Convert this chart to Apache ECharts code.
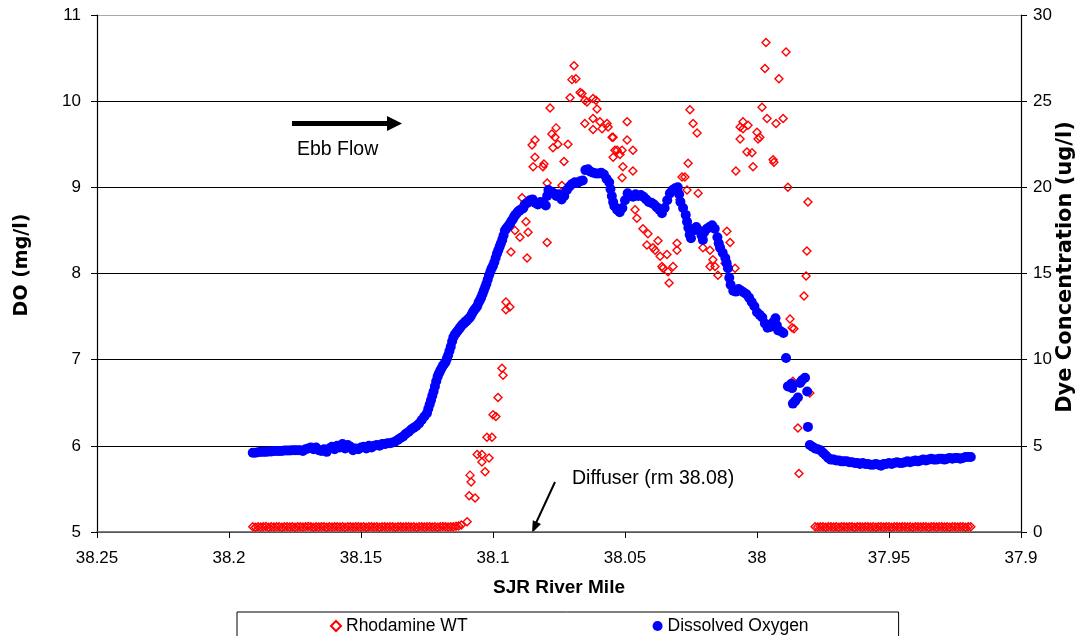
<!DOCTYPE html>
<html>
<head>
<meta charset="utf-8">
<script src="https://cdn.jsdelivr.net/npm/echarts@6/dist/echarts.min.js"></script>
<style>
html,body{margin:0;padding:0;background:#fff;}
#chart{width:1086px;height:636px;}
</style>
</head>
<body>
<div id="chart"></div>
<script>
// X axis tick range (SJR River Mile, drawn reversed)
const xTicks = [38.25, 38.2, 38.15, 38.1, 38.05, 38, 37.95, 37.9];
const doTicks = [5, 6, 7, 8, 9, 10, 11];
const dyeTicks = [0, 5, 10, 15, 20, 25, 30];
const seriesNames = ['Rhodamine WT', 'Dissolved Oxygen'];

// Dissolved Oxygen (mg/l): [river mile, DO]
const doData = [
[38.191,5.92],[38.190,5.92],[38.189,5.925],[38.188,5.93],[38.187,5.93],[38.186,5.93],[38.185,5.935],[38.184,5.935],
[38.183,5.94],[38.182,5.94],[38.181,5.94],[38.180,5.94],[38.179,5.945],[38.178,5.945],[38.177,5.945],[38.176,5.95],
[38.175,5.95],[38.174,5.95],[38.173,5.95],[38.172,5.94],[38.171,5.96],[38.170,5.97],[38.169,5.98],[38.168,5.96],
[38.167,5.98],[38.166,5.95],[38.165,5.94],[38.164,5.96],[38.163,5.93],[38.162,5.97],[38.161,5.99],[38.160,5.96],
[38.159,6.0],[38.158,5.98],[38.157,6.02],[38.156,5.97],[38.155,6.01],[38.154,5.99],[38.153,5.95],[38.152,5.97],
[38.151,5.96],[38.150,5.98],[38.149,5.99],[38.148,5.97],[38.147,6.0],[38.146,5.98],[38.145,6.0],[38.144,6.01],
[38.143,6.0],[38.142,6.02],[38.141,6.02],[38.140,6.03],[38.139,6.03],[38.138,6.04],[38.137,6.05],[38.136,6.07],
[38.135,6.09],[38.134,6.11],[38.133,6.14],[38.132,6.16],[38.131,6.19],[38.130,6.21],[38.129,6.23],[38.128,6.26],
[38.127,6.30],[38.126,6.34],[38.125,6.38],[38.1245,6.43],[38.124,6.48],[38.1235,6.53],[38.123,6.58],[38.1225,6.63],
[38.122,6.69],[38.1215,6.75],[38.121,6.80],[38.1205,6.84],[38.120,6.87],[38.1195,6.90],[38.119,6.93],[38.1185,6.95],
[38.118,6.97],[38.1175,7.01],[38.117,7.05],[38.1165,7.10],[38.116,7.15],[38.1155,7.21],[38.115,7.26],[38.1145,7.29],
[38.114,7.31],[38.1135,7.33],[38.113,7.35],[38.1125,7.37],[38.112,7.39],[38.1115,7.41],[38.111,7.42],[38.1105,7.44],
[38.110,7.45],[38.1095,7.47],[38.109,7.48],[38.1085,7.50],[38.108,7.53],[38.1075,7.56],[38.107,7.58],[38.1065,7.60],
[38.106,7.62],[38.1055,7.66],[38.105,7.69],[38.1045,7.72],[38.104,7.76],[38.1035,7.80],[38.103,7.84],[38.1025,7.88],
[38.102,7.93],[38.1015,7.98],[38.101,8.02],[38.1005,8.06],[38.100,8.09],[38.0995,8.13],[38.099,8.18],[38.0985,8.23],
[38.098,8.27],[38.0975,8.31],[38.097,8.35],[38.0965,8.39],[38.096,8.44],[38.0955,8.50],[38.095,8.52],[38.0945,8.54],
[38.094,8.56],[38.0935,8.58],[38.093,8.61],[38.0925,8.63],[38.092,8.66],[38.0915,8.68],[38.091,8.70],[38.0905,8.72],
[38.090,8.73],[38.089,8.75],[38.0885,8.76],[38.088,8.80],[38.087,8.82],[38.086,8.85],[38.085,8.86],[38.084,8.82],
[38.083,8.80],[38.082,8.83],[38.081,8.82],[38.080,8.79],[38.0795,8.90],[38.079,8.97],[38.078,8.95],[38.077,8.93],
[38.076,8.90],[38.075,8.92],[38.074,8.86],[38.073,8.90],[38.072,8.97],[38.071,9.01],[38.070,9.04],[38.069,9.06],
[38.068,9.05],[38.067,9.07],[38.066,9.08],[38.065,9.20],[38.064,9.21],[38.063,9.18],[38.062,9.17],[38.061,9.16],
[38.060,9.16],[38.059,9.17],[38.058,9.15],[38.057,9.10],[38.056,9.06],[38.0555,8.98],[38.055,8.90],[38.0545,8.83],
[38.054,8.78],[38.053,8.74],[38.052,8.71],[38.051,8.76],[38.050,8.85],[38.049,8.93],[38.048,8.90],[38.047,8.89],
[38.046,8.92],[38.045,8.90],[38.044,8.91],[38.043,8.89],[38.042,8.86],[38.041,8.83],[38.040,8.82],[38.039,8.80],
[38.038,8.77],[38.037,8.74],[38.036,8.70],[38.035,8.76],[38.034,8.85],[38.033,8.93],[38.032,8.97],[38.031,8.99],
[38.030,9.00],[38.0295,8.92],[38.029,8.83],[38.028,8.76],[38.027,8.68],[38.0265,8.60],[38.026,8.53],[38.0255,8.45],
[38.025,8.41],[38.024,8.50],[38.023,8.54],[38.022,8.50],[38.021,8.44],[38.0205,8.39],[38.020,8.48],[38.019,8.52],
[38.018,8.54],[38.017,8.56],[38.016,8.52],[38.015,8.42],[38.0145,8.35],[38.014,8.30],[38.013,8.24],[38.012,8.18],
[38.0115,8.12],[38.011,8.06],[38.0105,7.95],[38.010,7.87],[38.009,7.80],[38.008,7.79],[38.007,7.82],[38.006,7.80],
[38.005,7.78],[38.004,7.76],[38.003,7.72],[38.002,7.67],[38.001,7.62],[38.000,7.55],[37.999,7.52],[37.998,7.49],
[37.997,7.42],[37.996,7.37],[37.995,7.38],[37.994,7.43],[37.993,7.48],[37.9925,7.40],[37.992,7.34],[37.991,7.33],
[37.990,7.31],[37.989,7.02],[37.9883,6.69],[37.987,6.72],[37.9867,6.67],[37.9864,6.49],[37.9855,6.52],[37.9845,6.56],
[37.9837,6.73],[37.983,6.76],[37.9818,6.79],[37.981,6.63],[37.9807,6.22],[37.980,6.01],[37.979,5.99],[37.978,5.97],
[37.977,5.96],[37.976,5.95],[37.975,5.92],[37.974,5.89],[37.973,5.86],[37.972,5.84],[37.971,5.84],[37.970,5.83],
[37.969,5.83],[37.968,5.82],[37.967,5.82],[37.966,5.82],[37.965,5.81],[37.964,5.81],[37.963,5.80],[37.962,5.80],
[37.961,5.79],[37.960,5.80],[37.959,5.79],[37.958,5.79],[37.957,5.78],[37.956,5.78],[37.955,5.79],[37.954,5.78],
[37.953,5.77],[37.952,5.79],[37.951,5.79],[37.950,5.80],[37.949,5.79],[37.948,5.80],[37.947,5.81],[37.946,5.80],
[37.945,5.80],[37.944,5.81],[37.943,5.82],[37.942,5.81],[37.941,5.82],[37.940,5.83],[37.939,5.82],[37.938,5.83],
[37.937,5.84],[37.936,5.83],[37.935,5.84],[37.934,5.85],[37.933,5.84],[37.932,5.84],[37.931,5.85],[37.930,5.85],
[37.929,5.84],[37.928,5.85],[37.927,5.86],[37.926,5.85],[37.925,5.86],[37.924,5.86],[37.923,5.85],[37.922,5.86],
[37.921,5.87],[37.920,5.87],[37.919,5.87]
];

// Rhodamine WT dye (ug/l): [river mile, concentration]
const dyeData = [
[38.191,0.30],[38.190,0.28],[38.189,0.31],[38.188,0.29],[38.187,0.30],[38.186,0.32],[38.185,0.28],[38.184,0.30],
[38.183,0.29],[38.182,0.31],[38.181,0.30],[38.180,0.28],[38.179,0.30],[38.178,0.31],[38.177,0.29],[38.176,0.30],
[38.175,0.28],[38.174,0.31],[38.173,0.30],[38.172,0.29],[38.171,0.30],[38.170,0.32],[38.169,0.30],[38.168,0.28],
[38.167,0.30],[38.166,0.29],[38.165,0.31],[38.164,0.30],[38.163,0.28],[38.162,0.30],[38.161,0.29],[38.160,0.31],
[38.159,0.30],[38.158,0.29],[38.157,0.30],[38.156,0.28],[38.155,0.31],[38.154,0.30],[38.153,0.29],[38.152,0.30],
[38.151,0.31],[38.150,0.29],[38.149,0.30],[38.148,0.28],[38.147,0.30],[38.146,0.31],[38.145,0.29],[38.144,0.30],
[38.143,0.28],[38.142,0.30],[38.141,0.31],[38.140,0.29],[38.139,0.30],[38.138,0.30],[38.137,0.28],[38.136,0.31],
[38.135,0.30],[38.134,0.29],[38.133,0.30],[38.132,0.31],[38.131,0.29],[38.130,0.30],[38.129,0.28],[38.128,0.30],
[38.127,0.31],[38.126,0.29],[38.125,0.30],[38.124,0.31],[38.123,0.29],[38.122,0.30],[38.121,0.28],[38.120,0.30],
[38.119,0.32],[38.118,0.30],[38.117,0.29],[38.116,0.31],[38.115,0.30],[38.114,0.33],[38.113,0.35],[38.112,0.40],
[38.1098,0.60],[38.109,2.1],[38.1068,1.97],[38.1087,3.3],[38.1083,2.9],[38.106,4.5],[38.1042,4.5],[38.1042,4.06],
[38.103,3.5],[38.1015,4.3],[38.1023,5.5],[38.1004,5.5],[38.100,6.8],[38.0989,6.7],[38.0981,7.8],[38.0966,9.5],
[38.0962,9.1],[38.0951,13.35],[38.0936,13.05],[38.0951,12.9],[38.0932,16.25],[38.0917,17.5],[38.0898,17.1],[38.0867,17.4],
[38.0875,18.0],[38.0871,15.9],[38.089,19.4],[38.0795,16.8],[38.0795,20.25],[38.0848,21.2],[38.0841,21.75],[38.0852,22.45],
[38.0841,22.75],[38.0811,21.2],[38.0807,21.35],[38.0784,24.6],[38.0773,22.3],[38.0761,23.45],[38.0777,23.1],[38.0754,22.5],
[38.0765,22.9],[38.0731,21.5],[38.0716,22.5],[38.0708,25.2],[38.0701,26.25],[38.0686,26.3],[38.0693,27.05],[38.067,25.5],
[38.0663,25.45],[38.0644,24.95],[38.0652,25.05],[38.0621,25.15],[38.061,25.05],[38.0606,24.55],[38.0652,23.7],[38.0621,24.0],
[38.0621,23.35],[38.0595,23.8],[38.0568,23.7],[38.0564,23.5],[38.0549,22.9],[38.0545,22.9],[38.0538,22.15],[38.0545,21.75],
[38.0519,21.9],[38.0508,21.2],[38.0511,20.55],[38.0492,22.75],[38.0492,23.8],[38.0739,20.1],[38.0587,23.4],[38.053,22.15],
[38.0511,22.15],[38.047,22.15],[38.047,20.95],[38.0462,18.7],[38.0455,18.2],[38.0432,17.6],[38.0413,17.3],[38.0417,16.65],
[38.0394,16.5],[38.0375,16.9],[38.0386,16.35],[38.0367,16.0],[38.0341,16.1],[38.036,15.4],[38.0356,15.3],[38.0337,15.1],
[38.0318,15.4],[38.0333,14.45],[38.0303,16.75],[38.0303,16.35],[38.0254,24.5],[38.0242,23.7],[38.0227,23.15],[38.0261,21.4],
[38.0284,20.6],[38.0273,20.6],[38.0265,19.85],[38.0223,19.65],[38.0292,19.3],[38.0205,16.5],[38.0178,16.35],[38.0167,15.8],
[38.0178,15.4],[38.0159,15.4],[38.0148,14.9],[38.0121,15.6],[38.0114,17.45],[38.0102,16.8],[38.0083,15.3],[38.008,20.95],
[38.0064,22.8],[38.0064,23.5],[38.0053,23.8],[38.0053,23.4],[38.0034,23.6],[38.0038,22.05],[38.0019,22.0],[38.0015,21.2],
[38.000,23.2],[37.9996,22.8],[37.9989,22.9],[37.9981,24.65],[37.9962,24.0],[37.997,26.9],[37.9966,28.4],[37.9939,21.6],
[37.9936,21.45],[37.9928,23.7],[37.9917,26.3],[37.9901,24.0],[37.989,27.85],[37.9883,20.0],[37.9807,19.15],[37.9811,16.3],
[37.9814,14.85],[37.9822,13.7],[37.9875,12.36],[37.9867,11.85],[37.986,11.8],[37.9864,8.75],[37.980,8.06],[37.9845,6.03],
[37.9841,3.4],
[37.978,0.30],[37.977,0.29],[37.976,0.31],[37.975,0.30],[37.974,0.28],[37.973,0.30],[37.972,0.31],[37.971,0.29],
[37.970,0.30],[37.969,0.28],[37.968,0.30],[37.967,0.31],[37.966,0.29],[37.965,0.30],[37.964,0.30],[37.963,0.28],
[37.962,0.31],[37.961,0.30],[37.960,0.29],[37.959,0.30],[37.958,0.31],[37.957,0.29],[37.956,0.30],[37.955,0.28],
[37.954,0.30],[37.953,0.31],[37.952,0.29],[37.951,0.30],[37.950,0.30],[37.949,0.28],[37.948,0.31],[37.947,0.30],
[37.946,0.29],[37.945,0.30],[37.944,0.31],[37.943,0.29],[37.942,0.30],[37.941,0.28],[37.940,0.30],[37.939,0.31],
[37.938,0.29],[37.937,0.30],[37.936,0.30],[37.935,0.28],[37.934,0.31],[37.933,0.30],[37.932,0.29],[37.931,0.30],
[37.930,0.31],[37.929,0.29],[37.928,0.30],[37.927,0.28],[37.926,0.30],[37.925,0.31],[37.924,0.29],[37.923,0.30],
[37.922,0.30],[37.921,0.28],[37.920,0.31],[37.919,0.30]
];

const FONT = '"Liberation Sans", Arial, sans-serif';
const TITLE_FONT = '"DejaVu Sans", Verdana, sans-serif';
const chart = echarts.init(document.getElementById('chart'), null, {renderer: 'canvas'});

const option = {
  animation: false,
  backgroundColor: '#ffffff',
  grid: {left: 97, right: 65, top: 15, bottom: 104, containLabel: false},
  xAxis: {
    type: 'value', inverse: true,
    min: xTicks[xTicks.length - 1], max: xTicks[0], interval: 0.05,
    axisLine: {show: true, onZero: false, lineStyle: {color: '#555', width: 1.5}},
    axisTick: {show: true, inside: false, length: 6, lineStyle: {color: '#000'}},
    axisLabel: {color: '#000', fontSize: 17, fontFamily: FONT, margin: 18,
      formatter: v => String(parseFloat(v.toFixed(2)))},
    splitLine: {show: false}
  },
  yAxis: [
    {
      type: 'value', position: 'left',
      min: doTicks[0], max: doTicks[doTicks.length - 1], interval: 1,
      axisLine: {show: true, onZero: false, lineStyle: {color: '#000', width: 1.2}},
      axisTick: {show: true, inside: false, length: 6, lineStyle: {color: '#000'}},
      axisLabel: {color: '#000', fontSize: 17, fontFamily: FONT, margin: 16},
      splitLine: {show: true, lineStyle: {color: ['#555', '#000', '#000', '#000', '#000', '#000', '#aaa'], width: 1.2}}
    },
    {
      type: 'value', position: 'right',
      min: dyeTicks[0], max: dyeTicks[dyeTicks.length - 1], interval: 5,
      axisLine: {show: true, onZero: false, lineStyle: {color: '#000', width: 1.2}},
      axisTick: {show: true, inside: false, length: 6, lineStyle: {color: '#000'}},
      axisLabel: {color: '#000', fontSize: 17, fontFamily: FONT, margin: 12},
      splitLine: {show: false}
    }
  ],
  legend: {
    left: 237, top: 612,
    orient: 'horizontal',
    padding: [5, 90, 20, 93],
    itemGap: 185,
    itemWidth: 10, itemHeight: 10,
    borderColor: '#000', borderWidth: 1, borderRadius: 0,
    textStyle: {color: '#000', fontSize: 17.5, fontFamily: FONT},
    data: seriesNames
  },
  series: [
    {
      name: seriesNames[0], type: 'scatter', yAxisIndex: 1, z: 2,
      symbol: 'diamond', symbolSize: 8,
      itemStyle: {color: 'rgba(255,255,255,0)', borderColor: '#ff0000', borderWidth: 1.4, opacity: 1},
      data: dyeData
    },
    {
      name: seriesNames[1], type: 'scatter', yAxisIndex: 0, z: 3,
      symbol: 'circle', symbolSize: 10,
      itemStyle: {color: '#0000ff', opacity: 1},
      data: doData
    }
  ],
  graphic: [
    {type: 'text', x: 22, y: 265, rotation: Math.PI / 2,
      style: {text: 'DO (mg/l)', fill: '#000', font: 'bold 19px ' + TITLE_FONT, align: 'center', verticalAlign: 'middle'}},
    {type: 'text', x: 1066, y: 267, rotation: Math.PI / 2,
      style: {text: 'Dye Concentration (ug/l)', fill: '#000', font: 'bold 21px ' + TITLE_FONT, align: 'center', verticalAlign: 'middle'}},
    {type: 'text', x: 559, y: 588,
      style: {text: 'SJR River Mile', fill: '#000', font: 'bold 19px ' + FONT, align: 'center', verticalAlign: 'middle'}},
    {type: 'rect', shape: {x: 292, y: 121, width: 98, height: 5}, style: {fill: '#000'}},
    {type: 'polygon', shape: {points: [[387, 116], [402, 123.5], [387, 131]]}, style: {fill: '#000'}},
    {type: 'text', x: 297, y: 150,
      style: {text: 'Ebb Flow', fill: '#000', font: '19.5px ' + FONT, align: 'left', verticalAlign: 'middle'}},
    {type: 'text', x: 572, y: 479,
      style: {text: 'Diffuser (rm 38.08)', fill: '#000', font: '19.5px ' + FONT, align: 'left', verticalAlign: 'middle'}},
    {type: 'line', shape: {x1: 555, y1: 482, x2: 536, y2: 523}, style: {stroke: '#000', lineWidth: 2}},
    {type: 'polygon', shape: {points: [[532, 533], [541, 524], [532.8, 520.2]]}, style: {fill: '#000'}}
  ]
};
chart.setOption(option);
</script>
</body>
</html>
